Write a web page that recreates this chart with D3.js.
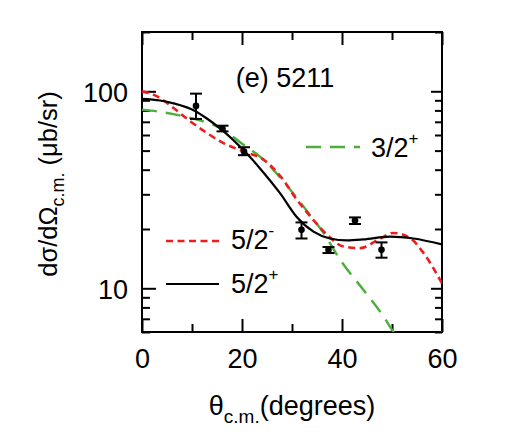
<!DOCTYPE html>
<meta charset="utf-8">
<style type="text/css">

body { margin: 0; background: #fff; }

text {
    font-family: "Liberation Sans", Arial, sans-serif;
    fill: #000;
}

.frame { fill: none; stroke: #000; stroke-width: 2; }
.axis path { display: none; }
.axis line { stroke: #000; stroke-width: 2; }
.axis text { font-size: 27px; }

.curve { fill: none; }
.c52p { stroke: #000; stroke-width: 2.2; }
.c52m { stroke: #ee1c1c; stroke-width: 2.6; stroke-dasharray: 7,4.5; }
.c32p { stroke: #4caf3a; stroke-width: 2.4; stroke-dasharray: 15,9; }

.err { stroke: #000; stroke-width: 2; }
.dot { fill: #000; }

</style>
<body>
</body>

<script src="https://d3js.org/d3.v7.min.js"></script>
<script>

var width = 509
  , height = 444;

// data
var expTheta = [10.8, 16.1, 20.4, 31.9, 37.3, 42.6, 47.9];
var expVal   = [84.3, 64.6, 49.5, 19.8, 15.7, 22.1, 15.7];
var expLo    = [72.4, 62.6, 47.4, 17.9, 15.1, 21.2, 14.3];
var expHi    = [97.3, 66.9, 52.0, 21.6, 16.2, 22.9, 17.1];

var th52p = [0, 3.6, 6.3, 10.6, 12.9, 15.6, 20.3, 23.6, 27.6, 30.9, 34.3, 37.6, 41, 44.3, 49.6, 54.3, 60];
var v52p  = [91.5, 89.8, 86.9, 79.5, 73, 64.9, 50.3, 40.6, 30.4, 23.1, 19.4, 17.9, 17.5, 17.7, 18.3, 17.9, 16.7];

var th52m = [0, 3, 6.3, 9.7, 13, 16.3, 20.3, 24.3, 27.7, 31, 34.3, 37, 40.3, 43.7, 47, 50.3, 53.7, 56.3, 60];
var v52m  = [100, 94.3, 82.3, 70.3, 61.4, 54.6, 49.5, 45, 37, 28.1, 22.2, 18.7, 16.3, 16, 17.5, 19.1, 17.9, 15.1, 10.6];

var th32p = [0, 4.3, 9.7, 15.6, 20.3, 24.3, 28.3, 32.3, 36.3, 39.7, 44.3, 48.3, 50.3, 53, 56, 60];
var v32p  = [80.7, 78.2, 73.2, 65.2, 53.5, 45, 34.9, 26, 19.1, 13.9, 9.8, 7.2, 6.0, 5.2, 5.0, 6.0];

var xTicks = [0, 20, 40, 60];
var xMinor = [10, 30, 50];
var yTicks = [10, 100];
var yMinor = [6, 7, 8, 9, 20, 30, 40, 50, 60, 70, 80, 90, 200];

var x0 = 142, x1 = 442, y0 = 32, y1 = 332;

var xScale = d3.scaleLinear()
    .domain([0, 60])
    .range([x0, x1]);

var yScale = d3.scaleLog()
    .domain([6, 200])
    .range([y1, y0]);

var svg = d3.select("body").append("svg")
    .attr("width", width)
    .attr("height", height);

svg.append("clipPath")
    .attr("id", "plot")
  .append("rect")
    .attr("x", x0).attr("y", y0)
    .attr("width", x1 - x0).attr("height", y1 - y0);

// ticks on all four sides, pointing in
function ticks(axis, vals, size, labels) {
    var a = axis.tickValues(vals).tickSize(-size).tickPadding(labels ? 14 : 0);
    if (!labels) a.tickFormat("");
    else a.tickFormat(d3.format("d"));
    return a;
}

svg.append("g").attr("class", "axis")
    .attr("transform", "translate(0," + y1 + ")")
    .call(ticks(d3.axisBottom(xScale), xTicks, 13, true));
svg.append("g").attr("class", "axis")
    .attr("transform", "translate(0," + y1 + ")")
    .call(ticks(d3.axisBottom(xScale), xMinor, 8, false));
svg.append("g").attr("class", "axis")
    .attr("transform", "translate(0," + y0 + ")")
    .call(ticks(d3.axisTop(xScale), xTicks, 13, false));
svg.append("g").attr("class", "axis")
    .attr("transform", "translate(0," + y0 + ")")
    .call(ticks(d3.axisTop(xScale), xMinor, 8, false));

svg.append("g").attr("class", "axis")
    .attr("transform", "translate(" + x0 + ",0)")
    .call(ticks(d3.axisLeft(yScale), yTicks, 14, true));
svg.append("g").attr("class", "axis")
    .attr("transform", "translate(" + x0 + ",0)")
    .call(ticks(d3.axisLeft(yScale), yMinor, 8, false));
svg.append("g").attr("class", "axis")
    .attr("transform", "translate(" + x1 + ",0)")
    .call(ticks(d3.axisRight(yScale), yTicks, 11, false));
svg.append("g").attr("class", "axis")
    .attr("transform", "translate(" + x1 + ",0)")
    .call(ticks(d3.axisRight(yScale), yMinor, 7, false));

svg.selectAll(".axis text").attr("dy", function() {
    return d3.select(this.parentNode.parentNode).attr("transform").indexOf("translate(0") === 0 ? "0.8em" : "0.36em";
});

svg.append("rect")
    .attr("class", "frame")
    .attr("x", x0).attr("y", y0)
    .attr("width", x1 - x0).attr("height", y1 - y0);

// curves
var line = d3.line()
    .x(function(d) { return xScale(d[0]); })
    .y(function(d) { return yScale(d[1]); })
    .curve(d3.curveMonotoneX);

var plot = svg.append("g").attr("clip-path", "url(#plot)");

plot.append("path")
    .datum(d3.zip(th32p, v32p))
    .attr("class", "curve c32p")
    .attr("d", line);

plot.append("path")
    .datum(d3.zip(th52m, v52m))
    .attr("class", "curve c52m")
    .attr("d", line);

plot.append("path")
    .datum(d3.zip(th52p, v52p))
    .attr("class", "curve c52p")
    .attr("d", line);

// data points with error bars
var pts = expTheta.map(function(t, i) {
    return { t: t, v: expVal[i], lo: expLo[i], hi: expHi[i] };
});

var pg = svg.selectAll(".pt")
    .data(pts)
  .enter().append("g")
    .attr("class", "pt");

pg.append("line").attr("class", "err")
    .attr("x1", function(d) { return xScale(d.t); })
    .attr("x2", function(d) { return xScale(d.t); })
    .attr("y1", function(d) { return yScale(d.lo); })
    .attr("y2", function(d) { return yScale(d.hi); });
pg.append("line").attr("class", "err")
    .attr("x1", function(d) { return xScale(d.t) - 6; })
    .attr("x2", function(d) { return xScale(d.t) + 6; })
    .attr("y1", function(d) { return yScale(d.lo); })
    .attr("y2", function(d) { return yScale(d.lo); });
pg.append("line").attr("class", "err")
    .attr("x1", function(d) { return xScale(d.t) - 6; })
    .attr("x2", function(d) { return xScale(d.t) + 6; })
    .attr("y1", function(d) { return yScale(d.hi); })
    .attr("y2", function(d) { return yScale(d.hi); });
pg.append("circle").attr("class", "dot")
    .attr("cx", function(d) { return xScale(d.t); })
    .attr("cy", function(d) { return yScale(d.v); })
    .attr("r", 3.3);

// title
svg.append("text")
    .attr("x", 285).attr("y", 87)
    .attr("text-anchor", "middle")
    .style("font-size", "27px")
    .text("(e) 5211");

// legend
var legend = [
    { cls: "c32p", lx: 306, lx2: 360, ly: 147, tx: 371, ty: 157, lab: "3/2", sup: "+" },
    { cls: "c52m", lx: 166, lx2: 220, ly: 241, tx: 231, ty: 249, lab: "5/2", sup: "-" },
    { cls: "c52p", lx: 166, lx2: 219, ly: 284, tx: 231, ty: 293, lab: "5/2", sup: "+" }
];

legend.forEach(function(d) {
    svg.append("line")
        .attr("class", "curve " + d.cls)
        .attr("x1", d.lx).attr("x2", d.lx2)
        .attr("y1", d.ly).attr("y2", d.ly);
    var t = svg.append("text")
        .attr("x", d.tx).attr("y", d.ty)
        .style("font-size", "27px");
    t.append("tspan").text(d.lab);
    t.append("tspan")
        .attr("dy", -13)
        .style("font-size", "17px")
        .text(d.sup);
});

// axis titles
var xt = svg.append("text")
    .attr("x", 292).attr("y", 415)
    .attr("text-anchor", "middle")
    .style("font-size", "27px");
xt.append("tspan").text("θ");
xt.append("tspan").attr("dy", 8).style("font-size", "19px").text("c.m.");
xt.append("tspan").attr("dy", -8).text("(degrees)");

var yt = svg.append("text")
    .attr("transform", "translate(57,184) rotate(-90)")
    .attr("text-anchor", "middle")
    .style("font-size", "25.5px");
yt.append("tspan").text("dσ/dΩ");
yt.append("tspan").attr("dy", 7).style("font-size", "18px").text("c.m.");
yt.append("tspan").attr("dy", -7).text(" (μb/sr)");

</script>
